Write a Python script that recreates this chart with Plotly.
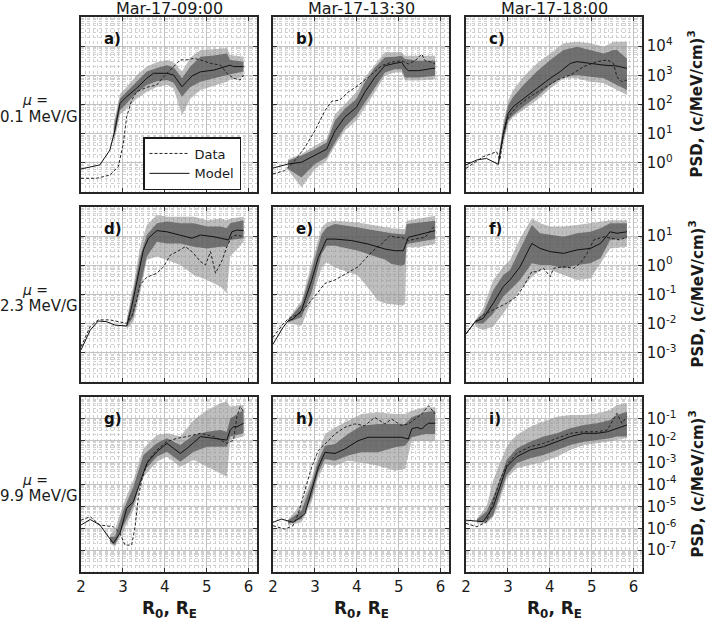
import plotly.graph_objects as go

# ---------------- data : log10 of PSD, (c/MeV/cm)^3 ----------------
# panel a  (mu = 0.1 MeV/G, Mar-17-09:00)
a_xm = [2.0, 2.45, 2.69, 2.81, 2.93, 3.09, 3.33, 3.57, 3.73, 4.05, 4.21, 4.41, 4.65, 4.85, 5.17, 5.48, 5.56, 5.64, 5.88]
a_model = [-0.21, -0.07, 0.44, 1.13, 2.04, 2.27, 2.56, 2.90, 3.07, 3.07, 3.01, 2.61, 2.98, 3.12, 3.18, 3.30, 3.35, 3.30, 3.30]
a_xb = [2.78, 2.93, 3.09, 3.33, 3.57, 3.81, 4.05, 4.21, 4.41, 4.61, 4.85, 5.17, 5.48, 5.56, 5.88]
a_out_hi = [1.35, 2.35, 2.61, 3.0, 3.30, 3.45, 3.53, 3.45, 3.13, 3.6, 3.87, 3.9, 3.93, 3.70, 3.64]
a_in_hi = [1.2, 2.2, 2.44, 2.8, 3.13, 3.25, 3.35, 3.28, 2.90, 3.3, 3.64, 3.68, 3.75, 3.53, 3.47]
a_in_lo = [0.8, 1.8, 2.04, 2.4, 2.67, 2.8, 2.84, 2.75, 2.27, 2.6, 2.78, 2.9, 3.01, 3.05, 3.13]
a_out_lo = [0.65, 1.65, 1.87, 2.2, 2.44, 2.6, 2.67, 2.55, 1.64, 2.2, 2.50, 2.65, 2.78, 2.85, 2.95]
a_xd = [2.0, 2.37, 2.69, 2.89, 3.01, 3.09, 3.21, 3.33, 3.57, 3.81, 3.97, 4.13, 4.37, 4.53, 4.69, 4.85, 5.09, 5.33, 5.48, 5.64, 5.80, 5.88]
a_data = [-0.53, -0.53, -0.42, -0.13, 0.67, 1.58, 2.15, 2.44, 2.59, 2.67, 2.95, 3.18, 3.53, 3.53, 3.58, 3.53, 3.41, 3.35, 3.07, 2.90, 2.84, 3.01]

# panel b  (mu = 0.1 MeV/G, Mar-17-13:30)
b_xm = [2.0, 2.36, 2.68, 3.0, 3.28, 3.48, 3.71, 3.99, 4.19, 4.43, 4.67, 4.91, 5.07, 5.15, 5.23, 5.47, 5.71, 5.87]
b_model = [-0.18, -0.04, 0.02, 0.25, 0.47, 1.10, 1.56, 1.90, 2.42, 2.93, 3.33, 3.41, 3.45, 3.27, 3.16, 3.16, 3.21, 3.25]
b_xb = [2.36, 2.68, 3.0, 3.28, 3.48, 3.71, 3.99, 4.19, 4.43, 4.67, 4.91, 5.07, 5.15, 5.47, 5.87]
b_out_hi = [0.12, 0.30, 0.59, 0.82, 1.67, 2.02, 2.42, 2.93, 3.38, 3.79, 3.79, 3.79, 3.67, 3.67, 3.67]
b_in_hi = [0.07, 0.25, 0.47, 0.70, 1.45, 1.85, 2.19, 2.76, 3.27, 3.62, 3.64, 3.67, 3.56, 3.50, 3.50]
b_in_lo = [-0.21, -0.50, -0.04, 0.19, 0.70, 1.22, 1.62, 2.07, 2.59, 3.10, 3.21, 3.21, 2.93, 2.93, 2.99]
b_out_lo = [-0.25, -0.84, -0.21, 0.07, 0.59, 1.10, 1.45, 1.90, 2.42, 2.99, 3.10, 3.10, 2.82, 2.82, 2.87]
b_xd = [2.0, 2.28, 2.52, 2.76, 3.0, 3.24, 3.40, 3.59, 3.79, 4.03, 4.27, 4.59, 4.83, 5.07, 5.23, 5.39, 5.55, 5.63, 5.79, 5.87]
b_data = [-0.38, -0.27, 0.07, 0.53, 1.10, 1.79, 2.11, 2.15, 2.42, 2.65, 2.93, 3.33, 3.45, 3.50, 3.39, 3.50, 3.73, 3.50, 3.45, 3.39]

# panel c  (mu = 0.1 MeV/G, Mar-17-18:00)
c_xm = [2.0, 2.26, 2.49, 2.77, 2.89, 3.01, 3.13, 3.37, 3.69, 4.01, 4.25, 4.49, 4.65, 4.97, 5.29, 5.60, 5.84]
c_model = [-0.07, 0.10, 0.15, -0.05, 1.01, 1.70, 1.93, 2.21, 2.55, 2.90, 3.13, 3.41, 3.47, 3.41, 3.35, 3.32, 3.24]
c_xb = [2.77, 2.89, 3.01, 3.13, 3.37, 3.69, 4.01, 4.33, 4.65, 4.97, 5.29, 5.52, 5.60, 5.84]
c_out_hi = [0.15, 1.36, 2.15, 2.50, 2.95, 3.41, 3.75, 4.10, 4.15, 4.10, 3.98, 4.15, 4.15, 4.15]
c_in_hi = [0.10, 1.24, 1.98, 2.27, 2.67, 3.13, 3.53, 3.87, 3.98, 3.87, 3.75, 3.87, 3.87, 3.58]
c_in_lo = [-0.07, 0.78, 1.47, 1.64, 1.93, 2.27, 2.67, 2.95, 3.01, 2.95, 2.90, 2.73, 2.67, 2.50]
c_out_lo = [-0.15, 0.67, 1.36, 1.58, 1.81, 2.15, 2.55, 2.90, 2.90, 2.78, 2.73, 2.55, 2.50, 2.33]
c_xd = [2.0, 2.41, 2.73, 2.81, 2.89, 3.01, 3.21, 3.53, 3.85, 4.17, 4.49, 4.81, 5.13, 5.37, 5.52, 5.60, 5.72, 5.84]
c_data = [-0.19, 0.21, 0.38, 0.10, 0.95, 1.58, 1.93, 2.27, 2.55, 2.84, 3.01, 3.30, 3.47, 3.53, 3.41, 2.95, 2.78, 2.84]

# panel d  (mu = 2.3 MeV/G, Mar-17-09:00)
d_xm = [2.0, 2.22, 2.41, 2.61, 2.81, 3.09, 3.21, 3.37, 3.49, 3.61, 3.81, 4.05, 4.37, 4.65, 4.85, 5.17, 5.52, 5.60, 5.72, 5.88]
d_model = [-2.90, -2.22, -1.91, -1.93, -2.05, -2.08, -1.42, -0.27, 0.53, 0.93, 1.19, 1.15, 1.04, 0.93, 1.04, 0.98, 0.87, 1.15, 1.21, 1.19]
d_xb = [3.09, 3.25, 3.41, 3.57, 3.81, 4.05, 4.37, 4.69, 5.01, 5.33, 5.48, 5.56, 5.88]
d_out_hi = [-1.85, -0.70, 0.64, 1.38, 1.73, 1.67, 1.67, 1.67, 1.55, 1.61, 1.55, 1.61, 1.67]
d_in_hi = [-1.95, -0.90, 0.30, 1.04, 1.44, 1.50, 1.44, 1.44, 1.33, 1.33, 1.27, 1.44, 1.55]
d_in_lo = [-2.12, -1.76, -0.73, 0.30, 0.81, 0.75, 0.75, 0.64, 0.58, 0.64, 0.64, 0.87, 0.93]
d_out_lo = [-2.18, -1.93, -0.96, 0.18, 0.30, 0.18, 0.01, -0.33, -0.50, -0.73, -0.96, 0.30, 0.81]
d_xd = [2.0, 2.22, 2.41, 2.69, 3.09, 3.21, 3.33, 3.41, 3.57, 3.81, 3.97, 4.13, 4.29, 4.49, 4.65, 4.85, 4.97, 5.09, 5.21, 5.37, 5.48, 5.60, 5.72, 5.88]
d_data = [-2.79, -2.10, -1.87, -1.87, -1.99, -1.76, -1.19, -0.67, -0.41, -0.27, -0.05, 0.35, 0.47, 0.64, 0.47, 0.13, 0.01, 0.47, -0.27, 0.18, 0.64, 0.98, 1.04, 0.98]

# panel e  (mu = 2.3 MeV/G, Mar-17-13:30)
e_xm = [2.0, 2.24, 2.36, 2.48, 2.68, 2.92, 3.08, 3.28, 3.48, 3.87, 4.27, 4.67, 4.91, 5.11, 5.23, 5.39, 5.55, 5.71, 5.87]
e_model = [-2.70, -2.13, -1.90, -1.84, -1.55, -0.53, 0.27, 0.90, 0.90, 0.85, 0.73, 0.56, 0.50, 0.50, 0.96, 1.02, 1.07, 1.13, 1.19]
e_xb = [2.36, 2.68, 2.92, 3.16, 3.28, 3.48, 4.03, 4.51, 4.67, 4.83, 5.07, 5.15, 5.19, 5.47, 5.87]
e_out_hi = [-1.85, -1.21, 0.05, 1.30, 1.47, 1.53, 1.47, 1.35, 1.30, 1.27, 1.25, 1.25, 1.53, 1.59, 1.70]
e_in_hi = [-1.87, -1.33, -0.18, 1.07, 1.30, 1.42, 1.30, 1.17, 1.13, 1.10, 1.07, 1.07, 1.42, 1.47, 1.53]
e_in_lo = [-1.95, -1.78, -0.93, 0.39, 0.67, 0.67, 0.50, 0.27, 0.20, 0.05, -0.01, 0.05, 0.73, 0.79, 0.90]
e_out_lo = [-1.98, -2.07, -1.21, -0.07, 0.10, -0.07, -0.35, -1.21, -1.30, -1.33, -1.38, -1.33, 0.62, 0.62, 0.73]
e_xd = [2.0, 2.24, 2.36, 2.68, 3.0, 3.24, 3.48, 3.71, 4.03, 4.35, 4.59, 4.79, 4.91, 5.07, 5.23, 5.39, 5.63, 5.79, 5.87]
e_data = [-2.47, -2.01, -1.84, -1.61, -1.05, -0.62, -0.50, -0.30, -0.05, 0.45, 0.73, 1.02, 0.96, 0.96, 0.85, 0.90, 0.96, 1.25, 1.36]

# panel f  (mu = 2.3 MeV/G, Mar-17-18:00)
f_xm = [2.0, 2.22, 2.41, 2.65, 2.89, 3.05, 3.29, 3.57, 3.77, 4.01, 4.33, 4.65, 4.97, 5.21, 5.44, 5.60, 5.84]
f_model = [-2.35, -1.93, -1.82, -1.30, -0.73, -0.50, -0.05, 0.75, 0.58, 0.47, 0.41, 0.53, 0.58, 0.75, 1.15, 1.10, 1.15]
f_xb = [2.22, 2.41, 2.65, 2.89, 3.05, 3.29, 3.57, 3.77, 4.01, 4.33, 4.65, 4.97, 5.21, 5.44, 5.84]
f_out_hi = [-1.88, -1.47, -0.50, -0.05, 0.18, 0.93, 1.61, 1.44, 1.33, 1.33, 1.38, 1.44, 1.50, 1.55, 1.55]
f_in_hi = [-1.90, -1.65, -0.85, -0.33, -0.16, 0.53, 1.38, 1.10, 1.04, 0.98, 1.10, 1.15, 1.27, 1.44, 1.44]
f_in_lo = [-1.99, -1.99, -1.65, -1.07, -0.85, -0.50, 0.07, 0.01, 0.01, -0.10, 0.01, 0.07, 0.24, 0.87, 0.93]
f_out_lo = [-2.10, -2.22, -2.10, -1.65, -1.30, -0.85, -0.39, -0.16, -0.16, -0.33, -0.50, -0.45, 0.07, 0.58, 0.64]
f_xd = [2.0, 2.22, 2.41, 2.65, 2.97, 3.21, 3.37, 3.57, 3.69, 3.85, 4.01, 4.09, 4.33, 4.57, 4.73, 4.89, 5.05, 5.29, 5.52, 5.68, 5.84]
f_data = [-2.35, -1.93, -1.70, -1.53, -1.30, -1.07, -0.73, -0.22, -0.22, -0.10, -0.39, -0.10, -0.05, -0.10, 0.07, 0.41, 0.87, 0.98, 0.93, 0.87, 0.98]

# panel g  (mu = 9.9 MeV/G, Mar-17-09:00)
g_xm = [2.0, 2.22, 2.45, 2.77, 2.93, 3.09, 3.25, 3.41, 3.57, 3.81, 4.05, 4.21, 4.37, 4.53, 4.85, 5.17, 5.48, 5.56, 5.64, 5.72, 5.88]
g_model = [-5.85, -5.60, -5.85, -6.69, -6.23, -5.09, -4.79, -3.95, -3.03, -2.50, -2.12, -2.35, -2.58, -2.35, -1.81, -1.89, -1.97, -1.51, -1.36, -1.36, -1.20]
g_xb = [2.69, 2.81, 3.01, 3.25, 3.49, 3.81, 4.05, 4.37, 4.69, 5.01, 5.33, 5.48, 5.56, 5.88]
g_out_hi = [-6.30, -6.08, -4.90, -3.80, -2.35, -1.74, -1.66, -1.81, -1.05, -0.59, -0.29, -0.21, -0.44, -0.37]
g_in_hi = [-6.40, -6.39, -5.20, -4.10, -2.65, -2.12, -1.89, -2.20, -1.74, -1.59, -1.51, -1.59, -0.98, -0.59]
g_in_lo = [-6.60, -6.77, -5.90, -4.94, -3.41, -2.73, -2.50, -2.96, -2.50, -2.27, -2.27, -2.27, -1.81, -1.66]
g_out_lo = [-6.70, -6.85, -6.15, -5.17, -3.64, -2.96, -2.73, -3.19, -2.88, -3.19, -3.49, -3.64, -1.97, -1.81]
g_xd = [2.0, 2.22, 2.45, 2.77, 2.93, 3.05, 3.21, 3.29, 3.37, 3.45, 3.61, 3.81, 4.05, 4.29, 4.53, 4.85, 5.17, 5.48, 5.64, 5.72, 5.80, 5.88]
g_data = [-5.63, -5.47, -5.85, -5.93, -6.23, -6.77, -6.77, -5.93, -4.56, -3.80, -2.88, -2.42, -2.04, -1.89, -1.81, -1.66, -1.81, -2.12, -1.97, -0.90, -0.44, -0.67]

# panel h  (mu = 9.9 MeV/G, Mar-17-13:30)
h_xm = [2.0, 2.20, 2.48, 2.76, 2.92, 3.08, 3.24, 3.48, 3.71, 4.03, 4.27, 4.67, 5.07, 5.23, 5.31, 5.43, 5.55, 5.63, 5.71, 5.87]
h_model = [-5.73, -5.58, -5.73, -5.35, -4.28, -3.22, -2.53, -2.58, -2.38, -2.00, -1.84, -1.84, -1.84, -1.92, -1.46, -1.39, -1.46, -1.31, -1.20, -1.20]
h_xb = [2.36, 2.68, 2.92, 3.08, 3.24, 3.48, 3.79, 4.11, 4.51, 4.91, 5.15, 5.31, 5.63, 5.87]
h_out_hi = [-5.60, -4.89, -3.75, -2.61, -1.69, -1.39, -1.08, -0.78, -0.70, -0.78, -0.78, -0.63, -0.47, -0.47]
h_in_hi = [-5.65, -5.20, -3.98, -2.91, -2.23, -2.15, -1.69, -1.31, -1.23, -1.23, -1.23, -0.93, -0.70, -0.63]
h_in_lo = [-5.80, -5.58, -4.59, -3.45, -2.84, -2.91, -2.68, -2.53, -2.53, -2.30, -2.23, -1.84, -1.69, -1.69]
h_out_lo = [-5.87, -5.73, -4.82, -3.67, -3.06, -3.14, -2.91, -2.99, -3.14, -3.37, -3.29, -2.00, -2.00, -2.00]
h_xd = [2.0, 2.28, 2.48, 2.60, 2.76, 2.92, 3.08, 3.24, 3.48, 3.71, 3.95, 4.19, 4.43, 4.67, 4.83, 5.07, 5.23, 5.39, 5.55, 5.71, 5.87]
h_data = [-5.88, -6.04, -5.88, -5.35, -4.28, -3.22, -2.45, -2.15, -1.69, -1.39, -1.23, -1.31, -0.93, -1.23, -1.01, -1.31, -1.23, -1.01, -0.78, -0.40, -0.78]

# panel i  (mu = 9.9 MeV/G, Mar-17-18:00)
i_xm = [2.0, 2.41, 2.65, 2.81, 2.97, 3.21, 3.53, 3.85, 4.17, 4.49, 4.81, 5.13, 5.37, 5.60, 5.84]
i_model = [-5.63, -5.70, -5.02, -4.10, -3.19, -2.73, -2.42, -2.27, -2.04, -1.81, -1.66, -1.66, -1.59, -1.43, -1.28]
i_xb = [2.26, 2.49, 2.65, 2.81, 2.97, 3.21, 3.53, 3.85, 4.17, 4.49, 4.81, 5.13, 5.44, 5.60, 5.84]
i_out_hi = [-5.55, -5.02, -3.80, -3.03, -2.27, -1.74, -1.36, -1.13, -0.90, -0.82, -0.82, -0.75, -0.59, -0.37, -0.29]
i_in_hi = [-5.60, -5.24, -4.56, -3.80, -2.88, -2.35, -2.04, -1.81, -1.66, -1.43, -1.28, -1.20, -1.05, -0.82, -0.67]
i_in_lo = [-5.70, -5.70, -5.40, -4.48, -3.57, -3.03, -2.80, -2.65, -2.42, -2.20, -2.04, -1.97, -1.89, -1.81, -1.81]
i_out_lo = [-5.78, -5.78, -5.47, -4.71, -3.72, -3.26, -3.11, -2.96, -2.73, -2.42, -2.20, -2.12, -2.04, -1.97, -1.89]
i_xd = [2.0, 2.26, 2.49, 2.65, 2.81, 2.97, 3.21, 3.53, 3.85, 4.17, 4.49, 4.81, 5.13, 5.37, 5.52, 5.60, 5.72, 5.84]
i_data = [-5.78, -5.93, -5.70, -4.71, -3.80, -3.11, -2.58, -2.27, -2.12, -1.89, -1.66, -1.59, -1.59, -1.51, -1.05, -0.75, -1.20, -0.90]

column_titles = ["Mar-17-09:00", "Mar-17-13:30", "Mar-17-18:00"]
row_labels = ["0.1 MeV/G", "2.3 MeV/G", "9.9 MeV/G"]
panel_letters = ["a)", "b)", "c)", "d)", "e)", "f)", "g)", "h)", "i)"]
x_ticks = [2, 3, 4, 5, 6]
row_ranges = [(-1, 5), (-4, 2), (-8, 0)]
row_label_decades = [list(range(0, 5)), list(range(-3, 2)), list(range(-7, 0))]

panels = [
    (a_xm, a_model, a_xb, a_out_lo, a_out_hi, a_in_lo, a_in_hi, a_xd, a_data),
    (b_xm, b_model, b_xb, b_out_lo, b_out_hi, b_in_lo, b_in_hi, b_xd, b_data),
    (c_xm, c_model, c_xb, c_out_lo, c_out_hi, c_in_lo, c_in_hi, c_xd, c_data),
    (d_xm, d_model, d_xb, d_out_lo, d_out_hi, d_in_lo, d_in_hi, d_xd, d_data),
    (e_xm, e_model, e_xb, e_out_lo, e_out_hi, e_in_lo, e_in_hi, e_xd, e_data),
    (f_xm, f_model, f_xb, f_out_lo, f_out_hi, f_in_lo, f_in_hi, f_xd, f_data),
    (g_xm, g_model, g_xb, g_out_lo, g_out_hi, g_in_lo, g_in_hi, g_xd, g_data),
    (h_xm, h_model, h_xb, h_out_lo, h_out_hi, h_in_lo, h_in_hi, h_xd, h_data),
    (i_xm, i_model, i_xb, i_out_lo, i_out_hi, i_in_lo, i_in_hi, i_xd, i_data),
]

# ---------------- figure ----------------
W, H = 709, 624
FONT = "DejaVu Sans"
col_px = [(81, 257), (273, 449), (466, 642)]
row_px = [(17, 192), (207, 382), (397, 572)]
OUTER = "rgba(150,150,150,0.62)"
INNER = "rgba(80,80,80,0.70)"


def pw(v):
    return [10 ** t for t in v]


fig = go.Figure()
layout = dict(
    width=W, height=H, margin=dict(l=0, r=0, t=0, b=0),
    paper_bgcolor="white", plot_bgcolor="white",
    font=dict(family=FONT, size=14, color="#1a1a1a"),
    showlegend=True,
    legend=dict(x=143 / W, y=1 - 137 / H, xanchor="left", yanchor="top",
                bgcolor="white", bordercolor="#1a1a1a", borderwidth=1.5,
                font=dict(size=13, family=FONT), tracegroupgap=0,
                itemwidth=40),
)
annotations = []

for k, p in enumerate(panels):
    xm, ym, xb, olo, ohi, ilo, ihi, xd, yd = p
    r, c = divmod(k, 3)
    sfx = "" if k == 0 else str(k + 1)
    xa, ya = "x" + sfx, "y" + sfx
    fig.add_trace(go.Scatter(x=xb + xb[::-1], y=pw(ohi) + pw(olo[::-1]), fill="toself",
                             fillcolor=OUTER, line=dict(width=0), mode="lines",
                             hoverinfo="skip", showlegend=False, xaxis=xa, yaxis=ya))
    fig.add_trace(go.Scatter(x=xb + xb[::-1], y=pw(ihi) + pw(ilo[::-1]), fill="toself",
                             fillcolor=INNER, line=dict(width=0), mode="lines",
                             hoverinfo="skip", showlegend=False, xaxis=xa, yaxis=ya))
    fig.add_trace(go.Scatter(x=xd, y=pw(yd), mode="lines", name="Data",
                             line=dict(color="#222222", width=1, dash="3px,2px"),
                             showlegend=(k == 0), xaxis=xa, yaxis=ya))
    fig.add_trace(go.Scatter(x=xm, y=pw(ym), mode="lines", name="Model",
                             line=dict(color="#111111", width=1),
                             showlegend=(k == 0), xaxis=xa, yaxis=ya))

    x0, x1 = col_px[c]
    y0, y1 = row_px[r]
    grid_major = "#c2c2c2"
    grid_minor = "#d0d0d0"
    layout["xaxis" + sfx] = dict(
        domain=[x0 / W, x1 / W], anchor=ya, range=[2, 6.2],
        tickmode="array", tickvals=x_ticks, ticktext=[str(t) for t in x_ticks],
        showticklabels=(r == 2), tickfont=dict(size=15, family=FONT),
        ticks="inside", ticklen=4, tickcolor="#333333",
        showgrid=True, gridcolor=grid_major, gridwidth=1.3,
        minor=dict(dtick=0.1, tick0=2, showgrid=True, gridcolor=grid_minor,
                   griddash="dot", gridwidth=1, ticks=""),
        showline=True, linecolor="#262626", linewidth=1.6, mirror="ticks",
        zeroline=False, automargin=False, fixedrange=True,
    )
    labs = row_label_decades[r]
    layout["yaxis" + sfx] = dict(
        domain=[1 - y1 / H, 1 - y0 / H], anchor=xa, type="log",
        range=list(row_ranges[r]),
        tickmode="array", tickvals=[10 ** d for d in labs],
        ticktext=["10<sup>%d</sup>" % d for d in labs],
        showticklabels=(c == 2), side="right" if c == 2 else "left",
        tickfont=dict(size=15, family=FONT),
        ticks="inside", ticklen=4, tickcolor="#333333",
        showgrid=True, gridcolor=grid_major, gridwidth=1.3,
        minor=dict(dtick="D1", showgrid=True, gridcolor=grid_minor,
                   griddash="dot", gridwidth=1, ticks=""),
        showline=True, linecolor="#262626", linewidth=1.6, mirror="ticks",
        zeroline=False, automargin=False, fixedrange=True,
    )
    annotations.append(dict(text="<b>%s</b>" % panel_letters[k], xref="paper", yref="paper",
                            x=(x0 + 21) / W, y=1 - (y0 + 22) / H, xanchor="left",
                            yanchor="middle", showarrow=False,
                            font=dict(size=15, family=FONT, color="#111111")))

for c, t in enumerate(column_titles):
    x0, x1 = col_px[c]
    annotations.append(dict(text=t, xref="paper", yref="paper", x=(x0 + x1) / 2 / W,
                            y=1 - 9 / H, xanchor="center", yanchor="middle",
                            showarrow=False, font=dict(size=16, family=FONT, color="#1a1a1a")))
    annotations.append(dict(text="<b>R<sub>0</sub>, R<sub>E</sub></b>", xref="paper",
                            yref="paper", x=(x0 + x1) / 2 / W, y=1 - 609 / H,
                            xanchor="center", yanchor="middle", showarrow=False,
                            font=dict(size=17, family=FONT, color="#1a1a1a")))

for r, lab in enumerate(row_labels):
    y0, y1 = row_px[r]
    cy = (y0 + y1) / 2
    annotations.append(dict(text="<i>μ</i> =", xref="paper", yref="paper", x=35 / W,
                            y=1 - (cy - 5) / H, xanchor="center", yanchor="middle",
                            showarrow=False, font=dict(size=14, family=FONT, color="#1a1a1a")))
    annotations.append(dict(text=lab, xref="paper", yref="paper", x=39 / W,
                            y=1 - (cy + 12) / H, xanchor="center", yanchor="middle",
                            showarrow=False, font=dict(size=15, family=FONT, color="#1a1a1a")))
    annotations.append(dict(text="<b>PSD, (c/MeV/cm)<sup>3</sup></b>", xref="paper",
                            yref="paper", x=696 / W, y=1 - cy / H, xanchor="center",
                            yanchor="middle", textangle=-90, showarrow=False,
                            font=dict(size=15, family=FONT, color="#1a1a1a")))

layout["annotations"] = annotations
fig.update_layout(**layout)
fig.write_html("out.html", config={"displayModeBar": False},
               post_script="document.body.style.margin='0';document.body.style.padding='0';")
